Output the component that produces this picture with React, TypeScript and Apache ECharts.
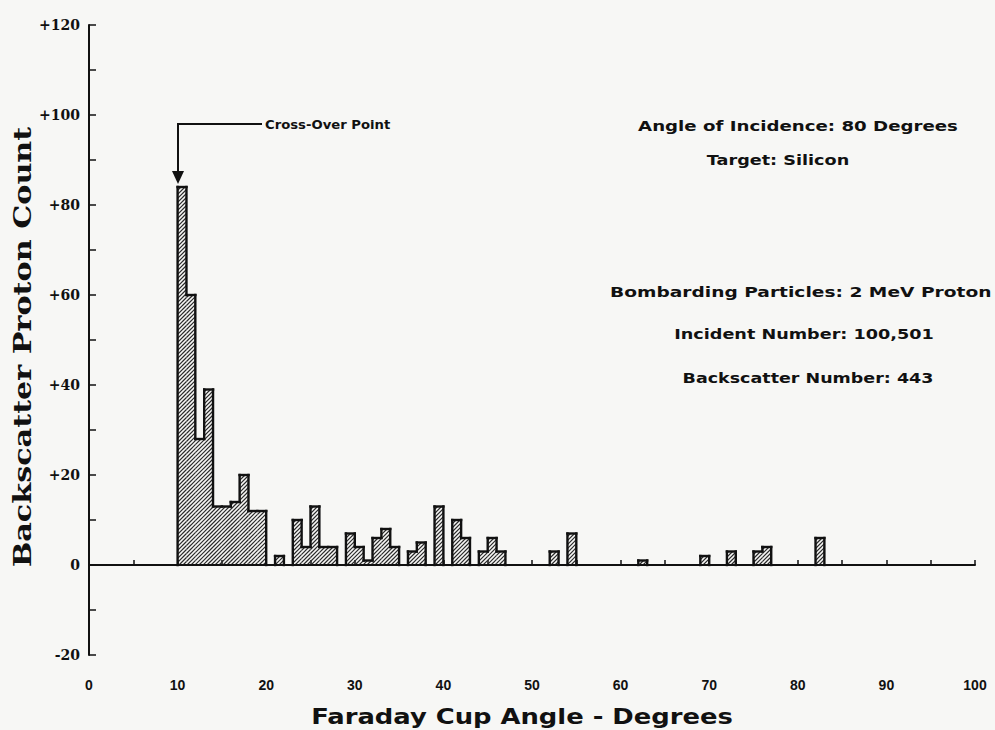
import React, { useEffect, useRef } from "react";
import * as echarts from "echarts";

// Histogram bins (1-degree wide, starting angle) and backscatter counts
const binStarts = [10, 11, 12, 13, 14, 15, 16, 17, 18, 19, 21, 23, 24, 25, 26, 27, 29, 30, 31, 32, 33, 34, 36, 37, 39, 41, 42, 44, 45, 46, 52, 54, 62, 69, 72, 75, 76, 82];
const counts = [84, 60, 28, 39, 13, 13, 14, 20, 12, 12, 2, 10, 4, 13, 4, 4, 7, 4, 1, 6, 8, 4, 3, 5, 13, 10, 6, 3, 6, 3, 3, 7, 1, 2, 3, 3, 4, 6];

const xTicks = [0, 10, 20, 30, 40, 50, 60, 70, 80, 90, 100];
const yTicks = [-20, 0, 20, 40, 60, 80, 100, 120];

const xTitle = "Faraday Cup Angle - Degrees";
const yTitle = "Backscatter Proton Count";

const notes = [
  { text: "Angle of Incidence: 80 Degrees", x: 798, y: 126, align: "center", sx: 1.3 },
  { text: "Target: Silicon", x: 778, y: 160, align: "center", sx: 1.26 },
  { text: "Bombarding Particles: 2 MeV Proton", x: 610, y: 292, align: "left", sx: 1.33 },
  { text: "Incident Number: 100,501", x: 804, y: 334, align: "center", sx: 1.26 },
  { text: "Backscatter Number: 443", x: 808, y: 378, align: "center", sx: 1.25 },
];

export default function App() {
  const ref = useRef<HTMLDivElement>(null);
  useEffect(() => {
    document.body.style.margin = "0";
    const chart = echarts.init(ref.current!, null, { renderer: "svg" });
    const countMap: Record<number, number> = {};
    binStarts.forEach((b, i) => (countMap[b] = counts[i]));
    const data = binStarts.map((b, i) => [b, counts[i]]);
    const ink = "#111";
    const sans = "DejaVu Sans";

    const renderItem = (params: any, api: any) => {
      const start = api.value(0);
      const v = api.value(1);
      const pTop = api.coord([start, v]);
      const pBase = api.coord([start + 1, 0]);
      const x0 = pTop[0];
      const x1 = pBase[0];
      const yTop = pTop[1];
      const yBase = pBase[1];
      const children: any[] = [];
      const s = 4;
      let c = Math.ceil((x0 + yTop) / s) * s;
      for (; c < x1 + yBase; c += s) {
        const xa = Math.max(x0, c - yBase);
        const xb = Math.min(x1, c - yTop);
        if (xb > xa + 0.3) {
          children.push({
            type: "line",
            shape: { x1: xa, y1: c - xa, x2: xb, y2: c - xb },
            style: { stroke: "#2a2a2a", lineWidth: 1.2 },
            silent: true,
          });
        }
      }
      const outline = { stroke: ink, lineWidth: 2.4, lineCap: "square" };
      children.push({ type: "line", shape: { x1: x0, y1: yTop, x2: x1, y2: yTop }, style: outline });
      const prev = countMap[start - 1] || 0;
      const yPrev = api.coord([start, prev])[1];
      children.push({ type: "line", shape: { x1: x0, y1: yPrev, x2: x0, y2: yTop }, style: outline });
      const next = countMap[start + 1] || 0;
      if (!next) {
        children.push({ type: "line", shape: { x1: x1, y1: yTop, x2: x1, y2: yBase }, style: outline });
      }
      return { type: "group", children };
    };

    chart.setOption({
      animation: false,
      backgroundColor: "#f7f7f5",
      grid: { left: 89, right: 20, top: 25, bottom: 75, containLabel: false, outerBoundsMode: "none" },
      xAxis: {
        type: "value",
        min: 0,
        max: 100,
        interval: 5,
        axisLine: { lineStyle: { color: ink, width: 2 } },
        axisTick: { inside: true, length: 5, lineStyle: { color: ink, width: 1.5 } },
        splitLine: { show: false },
        axisLabel: {
          margin: 23,
          fontFamily: "Liberation Sans",
          fontWeight: "bold",
          fontSize: 14,
          color: ink,
          formatter: (v: number) => (xTicks.includes(v) ? String(v) : ""),
        },
      },
      yAxis: {
        type: "value",
        min: -20,
        max: 120,
        interval: 10,
        axisLine: { onZero: false, lineStyle: { color: ink, width: 2 } },
        axisTick: { inside: true, length: 7, lineStyle: { color: ink, width: 1.5 } },
        splitLine: { show: false },
        axisLabel: {
          margin: 9,
          fontFamily: "DejaVu Serif",
          fontWeight: "bold",
          fontSize: 14,
          color: ink,
          formatter: (v: number) => (yTicks.includes(v) ? (v > 0 ? "+" + v : String(v)) : ""),
        },
      },
      series: [
        {
          type: "custom",
          renderItem,
          data,
          encode: { x: 0, y: 1 },
          clip: false,
          z: 3,
          markLine: {
            silent: true,
            symbol: ["none", "none"],
            label: { show: false },
            lineStyle: { color: ink, width: 1.8, type: "solid" },
            data: [[{ coord: [2, 0] }, { coord: [100, 0] }]],
          },
        },
      ],
      graphic: [
        {
          type: "text",
          x: 522,
          y: 717,
          scaleX: 1.23,
          style: {
            text: xTitle,
            fontFamily: sans,
            fontWeight: "bold",
            fontSize: 21,
            fill: ink,
            textAlign: "center",
            textVerticalAlign: "middle",
          },
        },
        {
          type: "text",
          x: 22,
          y: 347,
          rotation: Math.PI / 2,
          scaleX: 1.26,
          style: {
            text: yTitle,
            fontFamily: "DejaVu Serif",
            fontWeight: "bold",
            fontSize: 24,
            fill: ink,
            textAlign: "center",
            textVerticalAlign: "middle",
          },
        },
        {
          type: "polyline",
          shape: { points: [[262, 124], [178, 124], [178, 174]] },
          style: { stroke: ink, lineWidth: 2, fill: "none" },
        },
        {
          type: "polygon",
          shape: { points: [[172, 171], [184, 171], [178, 184]] },
          style: { fill: ink },
        },
        {
          type: "text",
          x: 265,
          y: 125,
          scaleX: 1.1,
          style: {
            text: "Cross-Over Point",
            fontFamily: sans,
            fontWeight: "bold",
            fontSize: 12,
            fill: ink,
            textAlign: "left",
            textVerticalAlign: "middle",
          },
        },
        ...notes.map((n) => ({
          type: "text",
          x: n.x,
          y: n.y,
          scaleX: n.sx,
          style: {
            text: n.text,
            fontFamily: sans,
            fontWeight: "bold",
            fontSize: 14,
            fill: ink,
            textAlign: n.align,
            textVerticalAlign: "middle",
          },
        })),
      ],
    });
    return () => chart.dispose();
  }, []);
  return <div ref={ref} style={{ position: "absolute", left: 0, top: 0, width: 995, height: 730 }} />;
}
